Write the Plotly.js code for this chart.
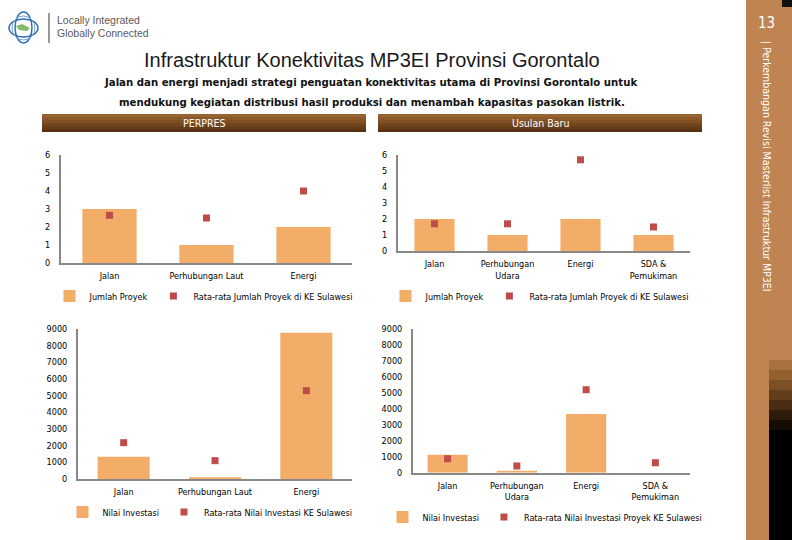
<!DOCTYPE html>
<html>
<head>
<meta charset="utf-8">
<script src="https://cdn.plot.ly/plotly-3.0.1.min.js"></script>
<style>html,body{margin:0;padding:0;background:#fff;}#chart{width:792px;height:540px;}</style>
</head>
<body>
<div id="chart"></div>
<script>
// ---- Data ----
const perpresCategories = ['Jalan', 'Perhubungan Laut', 'Energi'];
const usulanCategories = ['Jalan', 'Perhubungan<br>Udara', 'Energi', 'SDA &<br>Pemukiman'];

const perpresJumlahProyek = [3, 1, 2];
const perpresRataProyek = [2.65, 2.5, 4];
const usulanJumlahProyek = [2, 1, 2, 1];
const usulanRataProyek = [1.7, 1.7, 5.7, 1.5];

const perpresNilaiInvestasi = [1340, 100, 8780];
const perpresRataInvestasi = [2180, 1100, 5300];
const usulanNilaiInvestasi = [1130, 125, 3685, 0];
const usulanRataInvestasi = [880, 420, 5210, 630];

const countTicks = [0, 1, 2, 3, 4, 5, 6];
const investTicks = [0, 1000, 2000, 3000, 4000, 5000, 6000, 7000, 8000, 9000];

// ---- Helpers ----
const W = 792, H = 540;
const X = p => p / W;
const Y = p => 1 - p / H;
const NARROW = '"DejaVu Sans Condensed", "DejaVu Sans", sans-serif';
const BAR = '#F2AE69';
const MARK = '#BE4D4A';
const AXIS = '#888888';

function barTrace(cats, vals, name, xa, ya, leg, width) {
  return {type: 'bar', x: cats, y: vals, name: name, xaxis: xa, yaxis: ya, legend: leg,
    width: width, marker: {color: BAR, line: {width: 0}}, hoverinfo: 'skip'};
}
function markTrace(cats, vals, name, xa, ya, leg) {
  return {type: 'scatter', mode: 'markers', x: cats, y: vals, name: name, xaxis: xa, yaxis: ya, legend: leg,
    marker: {symbol: 'square', size: 7, color: MARK}, hoverinfo: 'skip'};
}

const data = [
  barTrace(perpresCategories, perpresJumlahProyek, 'Jumlah Proyek', 'x', 'y', 'legend', 0.56),
  markTrace(perpresCategories, perpresRataProyek, 'Rata-rata Jumlah Proyek di KE Sulawesi', 'x', 'y', 'legend'),
  barTrace(usulanCategories, usulanJumlahProyek, 'Jumlah Proyek', 'x2', 'y2', 'legend2', 0.55),
  markTrace(usulanCategories, usulanRataProyek, 'Rata-rata Jumlah Proyek di KE Sulawesi', 'x2', 'y2', 'legend2'),
  barTrace(perpresCategories, perpresNilaiInvestasi, 'Nilai Investasi', 'x3', 'y3', 'legend3', 0.57),
  markTrace(perpresCategories, perpresRataInvestasi, 'Rata-rata Nilai Investasi KE Sulawesi', 'x3', 'y3', 'legend3'),
  barTrace(usulanCategories, usulanNilaiInvestasi, 'Nilai Investasi', 'x4', 'y4', 'legend4', 0.58),
  markTrace(usulanCategories, usulanRataInvestasi, 'Rata-rata Nilai Investasi Proyek KE Sulawesi', 'x4', 'y4', 'legend4')
];

function xAxis(l, r, anchor, n) {
  return {domain: [X(l), X(r)], anchor: anchor, type: 'category', range: [-0.5, n - 0.5],
    showline: true, linecolor: AXIS, linewidth: 2, ticks: '', showgrid: false, zeroline: false,
    tickfont: {family: NARROW, size: 9, color: '#000'}, ticklabelstandoff: 3, fixedrange: true};
}
function yAxis(bottom, top, anchor, range, ticks) {
  return {domain: [Y(bottom), Y(top)], anchor: anchor, range: range, tickvals: ticks,
    ticktext: ticks.map(String), showline: true, linecolor: AXIS, linewidth: 2, ticks: '',
    showgrid: false, zeroline: false, tickfont: {family: NARROW, size: 9, color: '#000'},
    ticklabelstandoff: 7, fixedrange: true};
}

function legendAt(cx, cy) {
  return {orientation: 'h', x: X(cx), xanchor: 'center', y: Y(cy), yanchor: 'middle',
    bgcolor: 'rgba(0,0,0,0)', font: {family: NARROW, size: 9, color: '#000'},
    itemwidth: 30, tracegroupgap: 0, itemclick: false, itemdoubleclick: false};
}

// ---- Decoration shapes ----
const shapes = [];
function rect(x0, y0, x1, y1, color) {
  shapes.push({type: 'rect', xref: 'paper', yref: 'paper', x0: X(x0), x1: X(x1), y0: Y(y1), y1: Y(y0),
    fillcolor: color, line: {width: 0}, layer: 'below'});
}
// header gradient bars
const headerColors = ['#976433', '#8C5A2A', '#804F23', '#73461E', '#673C19', '#593214'];
[[42, 366], [378, 702]].forEach(([a, b]) => {
  headerColors.forEach((c, i) => rect(a, 114 + i * 3, b, 117 + i * 3, c));
});
// sidebar
rect(746, 0, 792, 540, '#BF8451');
rect(782, 0, 792, 7, '#111');
const sideGrad = ['#A8713F', '#93602F', '#7C4F24', '#633E1A', '#4A2D12', '#2E1B0A', '#150C04'];
sideGrad.forEach((c, i) => rect(769, 360 + i * 10, 792, 370 + i * 10, c));
rect(769, 430, 792, 540, '#000');
// logo
shapes.push({type: 'circle', xref: 'paper', yref: 'paper', x0: X(9), x1: X(38), y0: Y(37), y1: Y(19),
  line: {color: '#2F6DB3', width: 1.5}});
shapes.push({type: 'circle', xref: 'paper', yref: 'paper', x0: X(15), x1: X(32), y0: Y(43), y1: Y(12),
  line: {color: '#2F6DB3', width: 1.5}});
shapes.push({type: 'circle', xref: 'paper', yref: 'paper', x0: X(12), x1: X(35), y0: Y(40), y1: Y(16),
  line: {color: '#6FA3D8', width: 1}});
shapes.push({type: 'path', xref: 'paper', yref: 'paper',
  path: `M${X(16)},${Y(26)} L${X(22)},${Y(24)} L${X(30)},${Y(28)} L${X(27)},${Y(31)} L${X(19)},${Y(30)} Z`,
  fillcolor: '#6DAE55', line: {width: 0}, opacity: 0.85});
shapes.push({type: 'line', xref: 'paper', yref: 'paper', x0: X(49), x1: X(49), y0: Y(43), y1: Y(13),
  line: {color: '#777', width: 1.5}});

// ---- Text annotations ----
function ann(text, x, y, font, extra) {
  return Object.assign({text: text, xref: 'paper', yref: 'paper', x: X(x), y: Y(y), showarrow: false,
    xanchor: 'center', yanchor: 'middle', font: font}, extra || {});
}
const annotations = [
  ann('Infrastruktur Konektivitas MP3EI Provinsi Gorontalo', 372, 60,
    {family: '"Liberation Sans", Arial, sans-serif', size: 20, color: '#1a1a1a'}),
  ann('<b>Jalan dan energi menjadi strategi penguatan konektivitas utama di Provinsi Gorontalo untuk</b>', 370, 83,
    {family: NARROW, size: 11.3, color: '#111'}),
  ann('<b>mendukung kegiatan distribusi hasil produksi dan menambah kapasitas pasokan listrik.</b>', 372, 102,
    {family: NARROW, size: 11.3, color: '#111'}),
  ann('PERPRES', 204, 123, {family: NARROW, size: 10.5, color: '#fff'}),
  ann('Usulan Baru', 540, 123, {family: NARROW, size: 10.5, color: '#fff'}),
  ann('Locally Integrated', 55, 20, {family: '"Liberation Sans", Arial, sans-serif', size: 10.5, color: '#5b5b5b'}, {xanchor: 'left'}),
  ann('Globally Connected', 55, 33, {family: '"Liberation Sans", Arial, sans-serif', size: 10.5, color: '#5b5b5b'}, {xanchor: 'left'}),
  ann('13', 766, 23, {family: NARROW, size: 15, color: '#fff'}),
  ann('| Perkembangan Revisi Masterlist Infrastruktur MP3EI', 766, 166,
    {family: NARROW, size: 10.5, color: '#fff'}, {textangle: 90})
];

const layout = {
  width: W, height: H,
  margin: {l: 0, r: 0, t: 0, b: 0, pad: 0},
  paper_bgcolor: '#fff', plot_bgcolor: 'rgba(0,0,0,0)',
  font: {family: NARROW, size: 9, color: '#000'},
  barmode: 'overlay',
  showlegend: true,
  xaxis: xAxis(61, 352, 'y', 3),
  yaxis: yAxis(263, 155, 'x', [0, 6], countTicks),
  xaxis2: xAxis(398, 690, 'y2', 4),
  yaxis2: yAxis(251, 155, 'x2', [0, 6], countTicks),
  xaxis3: xAxis(78, 352, 'y3', 3),
  yaxis3: yAxis(479, 329, 'x3', [0, 9000], investTicks),
  xaxis4: xAxis(413, 690, 'y4', 4),
  yaxis4: yAxis(472.7, 329.3, 'x4', [0, 9000], investTicks),
  legend: legendAt(204, 296),
  legend2: legendAt(540, 296),
  legend3: legendAt(210, 512),
  legend4: legendAt(545, 517),
  shapes: shapes,
  annotations: annotations
};

Plotly.newPlot('chart', data, layout, {displayModeBar: false, staticPlot: true});
</script>
</body>
</html>
